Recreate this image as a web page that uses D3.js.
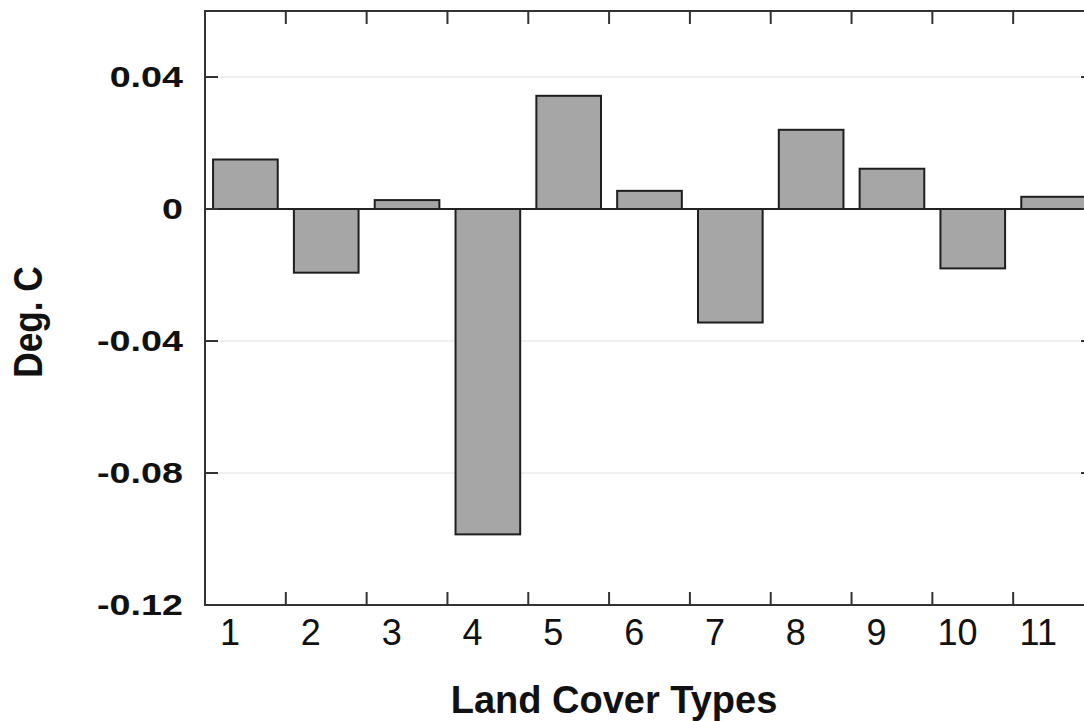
<!DOCTYPE html>
<html>
<head>
<meta charset="utf-8">
<script src="https://cdn.jsdelivr.net/npm/d3@7"></script>
<style>
  html, body { margin: 0; padding: 0; background: #fff; }
  svg { display: block; font-family: 'Liberation Sans', Arial, sans-serif; }
</style>
</head>
<body>
<div id="chart"></div>
<script>
const categories = ['1', '2', '3', '4', '5', '6', '7', '8', '9', '10', '11'];
const values = [0.015, -0.0193, 0.0027, -0.0986, 0.0343, 0.0055, -0.0344, 0.024, 0.0122, -0.018, 0.0037];
const yTicks = [0.04, 0, -0.04, -0.08, -0.12];
const yTickLabels = ['0.04', '0', '-0.04', '-0.08', '-0.12'];
const yGrid = [0.04, -0.04, -0.08];
const xTitle = 'Land Cover Types';
const yTitle = 'Deg. C';

const WIDTH = 1084;
const HEIGHT = 721;
const MARGIN = { TOP: 11, RIGHT: -10, BOTTOM: 116, LEFT: 205 };
const plotWidth = WIDTH - MARGIN.LEFT - MARGIN.RIGHT;
const plotHeight = HEIGHT - MARGIN.TOP - MARGIN.BOTTOM;

const xScale = d3
  .scaleBand()
  .domain(categories)
  .range([MARGIN.LEFT, WIDTH - MARGIN.RIGHT])
  .paddingInner(0.2)
  .paddingOuter(0.1);

const yScale = d3
  .scaleLinear()
  .domain([-0.12, 0.06])
  .range([HEIGHT - MARGIN.BOTTOM, MARGIN.TOP]);

const step = xScale.step();
// tick marks sit between the bars
const boundaries = categories.slice(1).map((c) => xScale(c) - step * 0.1);

const svg = d3.select('#chart').append('svg').attr('width', WIDTH).attr('height', HEIGHT);

// faint grid lines
svg
  .append('g')
  .selectAll('line')
  .data(yGrid)
  .join('line')
  .attr('x1', MARGIN.LEFT + 14)
  .attr('x2', WIDTH - MARGIN.RIGHT - 14)
  .attr('y1', (d) => yScale(d))
  .attr('y2', (d) => yScale(d))
  .attr('stroke', '#ebebeb')
  .attr('stroke-width', 1.5);

// bars
svg
  .append('g')
  .selectAll('rect')
  .data(values)
  .join('rect')
  .attr('x', (d, i) => xScale(categories[i]))
  .attr('width', xScale.bandwidth())
  .attr('y', (d) => yScale(Math.max(0, d)))
  .attr('height', (d) => Math.abs(yScale(d) - yScale(0)))
  .attr('fill', '#a6a6a6')
  .attr('stroke', '#1e1e1e')
  .attr('stroke-width', 2);

// zero line
svg
  .append('line')
  .attr('x1', MARGIN.LEFT)
  .attr('x2', WIDTH - MARGIN.RIGHT)
  .attr('y1', yScale(0))
  .attr('y2', yScale(0))
  .attr('stroke', '#222')
  .attr('stroke-width', 2);

// frame
svg
  .append('rect')
  .attr('x', MARGIN.LEFT)
  .attr('y', MARGIN.TOP)
  .attr('width', plotWidth)
  .attr('height', plotHeight)
  .attr('fill', 'none')
  .attr('stroke', '#333')
  .attr('stroke-width', 2);

// inward ticks on all four sides
const tickLen = 13;
const ticks = svg.append('g').attr('stroke', '#333').attr('stroke-width', 2);
ticks
  .selectAll('.tb')
  .data(boundaries)
  .join('line')
  .attr('class', 'tb')
  .attr('x1', (d) => d)
  .attr('x2', (d) => d)
  .attr('y1', HEIGHT - MARGIN.BOTTOM)
  .attr('y2', HEIGHT - MARGIN.BOTTOM - tickLen);
ticks
  .selectAll('.tt')
  .data(boundaries)
  .join('line')
  .attr('class', 'tt')
  .attr('x1', (d) => d)
  .attr('x2', (d) => d)
  .attr('y1', MARGIN.TOP)
  .attr('y2', MARGIN.TOP + tickLen);
ticks
  .selectAll('.tl')
  .data(yTicks)
  .join('line')
  .attr('class', 'tl')
  .attr('x1', MARGIN.LEFT)
  .attr('x2', MARGIN.LEFT + tickLen)
  .attr('y1', (d) => yScale(d))
  .attr('y2', (d) => yScale(d));
ticks
  .selectAll('.tr')
  .data(yTicks)
  .join('line')
  .attr('class', 'tr')
  .attr('x1', WIDTH - MARGIN.RIGHT)
  .attr('x2', WIDTH - MARGIN.RIGHT - tickLen)
  .attr('y1', (d) => yScale(d))
  .attr('y2', (d) => yScale(d));

// y tick labels (the source image is stretched sideways)
svg
  .append('g')
  .selectAll('text')
  .data(yTicks)
  .join('text')
  .attr('transform', (d) => 'translate(' + (MARGIN.LEFT - 22) + ',' + yScale(d) + ') scale(1.3,1)')
  .attr('text-anchor', 'end')
  .attr('dy', '0.36em')
  .attr('font-size', 29)
  .attr('font-weight', 'bold')
  .attr('fill', '#111')
  .text((d, i) => yTickLabels[i]);

// x tick labels
svg
  .append('g')
  .selectAll('text')
  .data(categories)
  .join('text')
  .attr('x', (d) => xScale(d) - step * 0.1 + step * 0.31)
  .attr('y', HEIGHT - MARGIN.BOTTOM + 40)
  .attr('text-anchor', 'middle')
  .attr('font-size', 36)
  .attr('fill', '#111')
  .text((d) => d);

// axis titles
svg
  .append('text')
  .attr('x', 614)
  .attr('y', 713)
  .attr('text-anchor', 'middle')
  .attr('font-size', 38)
  .attr('font-weight', 'bold')
  .attr('fill', '#111')
  .text(xTitle);

svg
  .append('text')
  .attr('transform', 'translate(42,322) rotate(-90) scale(1.1,1.25)')
  .attr('text-anchor', 'middle')
  .attr('font-size', 32)
  .attr('font-weight', 'bold')
  .attr('fill', '#111')
  .text(yTitle);
</script>
</body>
</html>
